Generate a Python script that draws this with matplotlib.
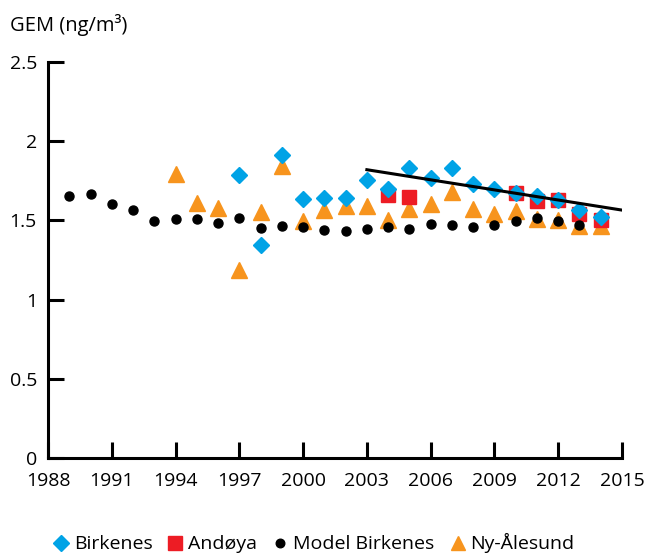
import matplotlib.pyplot as plt

plt.rcParams['font.family'] = ['Open Sans', 'DejaVu Sans']

# Model Birkenes (black dots)
model_years = [1989, 1990, 1991, 1992, 1993, 1994, 1995, 1996, 1997, 1998, 1999,
               2000, 2001, 2002, 2003, 2004, 2005, 2006, 2007, 2008, 2009, 2010,
               2011, 2012, 2013]
model_gem = [1.654, 1.665, 1.606, 1.564, 1.497, 1.511, 1.511, 1.486, 1.516, 1.455, 1.467,
             1.459, 1.442, 1.432, 1.444, 1.459, 1.448, 1.476, 1.468, 1.459, 1.474, 1.499,
             1.516, 1.497, 1.474]

# Birkenes (blue diamonds)
birk_years = [1997, 1998, 1999, 2000, 2001, 2002, 2003, 2004, 2005, 2006, 2007,
              2008, 2009, 2010, 2011, 2012, 2013, 2014]
birk_gem = [1.784, 1.346, 1.910, 1.635, 1.644, 1.644, 1.753, 1.696, 1.833, 1.765, 1.833,
            1.727, 1.700, 1.673, 1.654, 1.631, 1.564, 1.524]

# Andøya (red squares)
and_years = [2004, 2005, 2010, 2011, 2012, 2013, 2014]
and_gem = [1.660, 1.648, 1.675, 1.623, 1.631, 1.543, 1.505]

# Ny-Ålesund (orange triangles)
ny_years = [1994, 1995, 1996, 1997, 1998, 1999, 2000, 2001, 2002, 2003, 2004,
            2005, 2006, 2007, 2008, 2009, 2010, 2011, 2012, 2013, 2014]
ny_gem = [1.790, 1.612, 1.581, 1.184, 1.553, 1.843, 1.497, 1.564, 1.591, 1.591, 1.501,
          1.570, 1.602, 1.679, 1.570, 1.543, 1.560, 1.511, 1.501, 1.465, 1.465]

# trend line for Birkenes
trend_years = [2003, 2015]
trend_gem = [1.82, 1.565]

xticks = list(range(1988, 2016, 3))
yticks = [0, 0.5, 1, 1.5, 2, 2.5]
ytick_labels = ['0', '0.5', '1', '1.5', '2', '2.5']

BLUE = '#00a3e6'
RED = '#ed1c24'
ORANGE = '#f7941d'

fig = plt.figure(figsize=(6.45, 5.54), dpi=100)
ax = fig.add_axes([0.0744, 0.1733, 0.8899, 0.7148])

h_ny, = ax.plot(ny_years, ny_gem, '^', color=ORANGE, markersize=11, linestyle='none', zorder=2)
h_and, = ax.plot(and_years, and_gem, 's', color=RED, markersize=10, linestyle='none', zorder=3)
h_birk, = ax.plot(birk_years, birk_gem, 'D', color=BLUE, markersize=8.5, linestyle='none', zorder=4)
h_mod, = ax.plot(model_years, model_gem, 'o', color='black', markersize=6.5, linestyle='none', zorder=5)
ax.plot(trend_years, trend_gem, color='black', linewidth=2.2, zorder=6)

ax.set_xlim(1988, 2015)
ax.set_ylim(0, 2.5)
ax.set_xticks(xticks)
ax.set_yticks(yticks)
ax.set_yticklabels(ytick_labels)

for side in ['top', 'right']:
    ax.spines[side].set_visible(False)
for side in ['left', 'bottom']:
    ax.spines[side].set_linewidth(2.2)

ax.tick_params(axis='both', direction='in', length=11.5, width=2.2, labelsize=14)
ax.tick_params(axis='x', pad=10)
ax.tick_params(axis='y', pad=8)

fig.text(0.0155, 0.955, 'GEM (ng/m³)', fontsize=14.5, va='center', ha='left')

fig.legend([h_birk, h_and, h_mod, h_ny],
           ['Birkenes', 'Andøya', 'Model Birkenes', 'Ny-Ålesund'],
           loc='center', bbox_to_anchor=(0.488, 0.019), ncol=4, frameon=False,
           fontsize=14, handlelength=0.6, handletextpad=0.37, columnspacing=0.88,
           markerscale=0.95)

fig.savefig('out.png', dpi=100)
